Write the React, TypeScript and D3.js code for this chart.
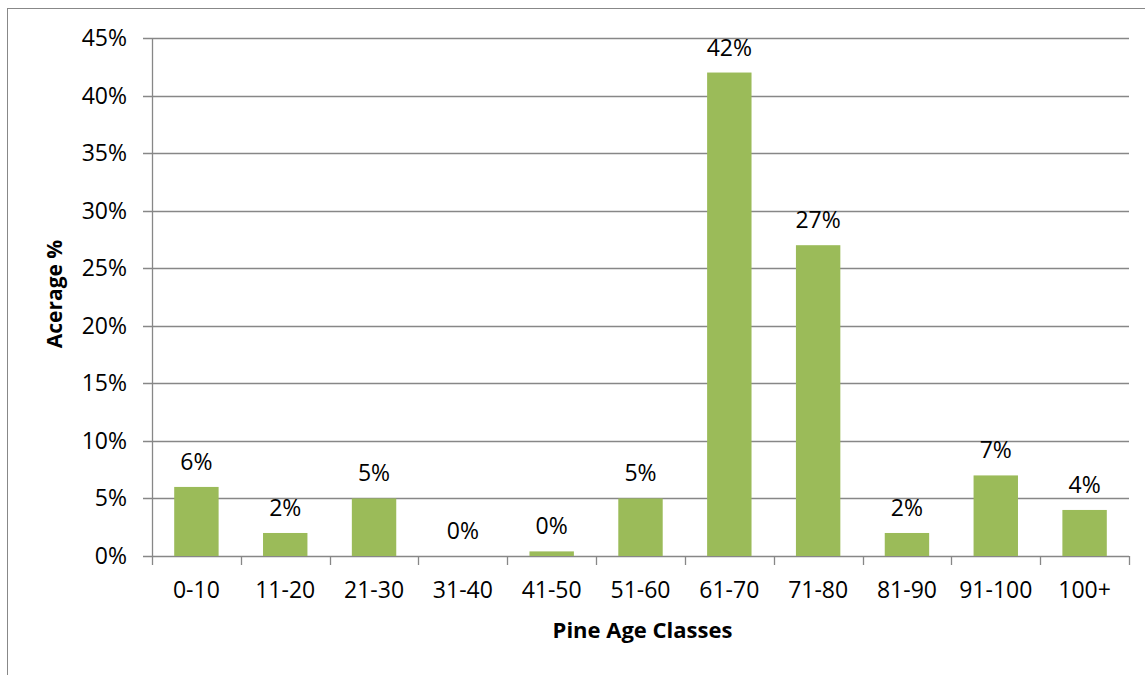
import React from "react";
import * as d3 from "d3";

const categories = ["0-10", "11-20", "21-30", "31-40", "41-50", "51-60", "61-70", "71-80", "81-90", "91-100", "100+"];
const values = [6, 2, 5, 0, 0.4, 5, 42, 27, 2, 7, 4];
const yTicks = [0, 5, 10, 15, 20, 25, 30, 35, 40, 45];

const W = 1145;
const H = 675;
const plot = { left: 152, right: 1129, top: 38, bottom: 556 };
const FONT = "'Open Sans', Lato, sans-serif";

export default function App() {
  const x = d3.scaleBand<string>().domain(categories).range([plot.left, plot.right]).paddingInner(0.5).paddingOuter(0.25);
  const xb = d3.scaleBand<string>().domain(categories).range([plot.left, plot.right]);
  const y = d3.scaleLinear().domain([0, 45]).range([plot.bottom, plot.top]);
  const grid = "#878787";
  return (
    <svg width={W} height={H} style={{ position: "absolute", left: 0, top: 0 }} fontFamily={FONT}>
      <rect x={0} y={0} width={W} height={H} fill="#fff" />
      <rect x={7.5} y={8.5} width={W + 10} height={H + 10} fill="none" stroke="#888" strokeWidth={1} />
      {yTicks.map((t) => (
        <g key={t}>
          <line x1={plot.left - 9} x2={plot.right} y1={Math.round(y(t)) + 0.5} y2={Math.round(y(t)) + 0.5} stroke={grid} strokeWidth={1.3} />
          <text x={127} y={y(t) + 8} textAnchor="end" fontSize={23} fill="#000">{t}%</text>
        </g>
      ))}
      <line x1={plot.left + 0.5} x2={plot.left + 0.5} y1={plot.top} y2={plot.bottom} stroke={grid} strokeWidth={1.3} />
      {categories.map((c) => (
        <line key={"t" + c} x1={Math.round(xb(c)!) + 0.5} x2={Math.round(xb(c)!) + 0.5} y1={plot.bottom} y2={plot.bottom + 9} stroke={grid} strokeWidth={1.3} />
      ))}
      <line x1={plot.right + 0.5} x2={plot.right + 0.5} y1={plot.bottom} y2={plot.bottom + 9} stroke={grid} strokeWidth={1.3} />
      {categories.map((c, i) => (
        <g key={c}>
          <rect x={x(c)} y={y(values[i])} width={x.bandwidth()} height={plot.bottom - y(values[i])} fill="#9BBB59" />
          <text x={x(c)! + x.bandwidth() / 2} y={y(values[i]) - 17} textAnchor="middle" fontSize={23} fill="#000">{Math.round(values[i])}%</text>
          <text x={x(c)! + x.bandwidth() / 2} y={598} textAnchor="middle" fontSize={23} fill="#000">{c}</text>
        </g>
      ))}
      <text transform={`translate(62,${(plot.top + plot.bottom) / 2 - 3}) rotate(-90)`} textAnchor="middle" fontSize={21} fontWeight="bold" fill="#000">Acerage %</text>
      <text x={(plot.left + plot.right) / 2 + 2} y={638} textAnchor="middle" fontSize={22} fontWeight="bold" fill="#000">Pine Age Classes</text>
    </svg>
  );
}
